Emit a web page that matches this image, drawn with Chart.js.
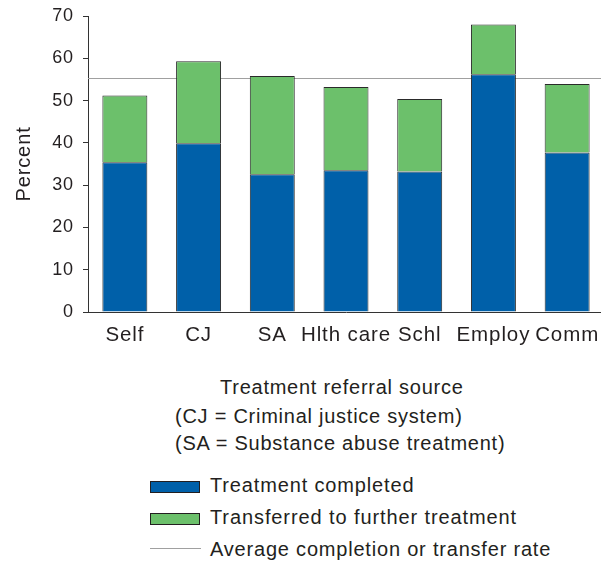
<!DOCTYPE html>
<html>
<head>
<meta charset="utf-8">
<script src="https://cdn.jsdelivr.net/npm/chart.js@4.4.1/dist/chart.umd.min.js"></script>
<style>
    html, body { margin: 0; padding: 0; background: #fff; overflow: hidden; width: 601px; height: 564px; }
    #wrap { position: absolute; left: 0; top: 0; width: 604px; height: 350px; }
    .txt { position: absolute; font-family: "Liberation Sans", Arial, sans-serif; font-size: 20px; line-height: 24px; letter-spacing: 0.75px; color: #231f20; white-space: nowrap; }
    .box { position: absolute; left: 150px; width: 48px; height: 10px; border: 1px solid #231f20; }
    .line { position: absolute; left: 150px; width: 51px; height: 1px; background: #a0a0a0; }
</style>
</head>
<body>
<div id="wrap"><canvas id="chart"></canvas></div>

<div class="txt" style="left:220px; top:375px;">Treatment referral source</div>
<div class="txt" style="left:175px; top:404px;">(CJ = Criminal justice system)</div>
<div class="txt" style="left:175px; top:431px;">(SA = Substance abuse treatment)</div>

<div class="box" style="top:481px; background:#0060a9;"></div>
<div class="txt" style="left:210px; top:473px; letter-spacing:0.85px;">Treatment completed</div>
<div class="box" style="top:513px; background:#6cc06b;"></div>
<div class="txt" style="left:210px; top:505px; letter-spacing:0.9px;">Transferred to further treatment</div>
<div class="line" style="top:548px;"></div>
<div class="txt" style="left:210px; top:537px; letter-spacing:0.8px;">Average completion or transfer rate</div>

<script>
const categories = ['Self', 'CJ', 'SA', 'Hlth care', 'Schl', 'Employ', 'Comm'];
const completed = [35.4, 39.9, 32.6, 33.5, 33.2, 56.2, 37.7];
const totals = [51.2, 59.3, 55.8, 53.2, 50.4, 68.0, 53.9];
const transferred = totals.map((t, i) => +(t - completed[i]).toFixed(1));
const averageRate = 55.4;
const yTicks = [0, 10, 20, 30, 40, 50, 60, 70];

const textColor = '#231f20';
const axisColor = '#333333';

// canvas text gets the same slight tracking as the html labels
const spacingPlugin = {
    id: 'spacing',
    beforeLayout(chart) { chart.ctx.letterSpacing = '0.9px'; },
    beforeDraw(chart) { chart.ctx.letterSpacing = '0.9px'; }
};

// average line, drawn behind the bars
const avgLinePlugin = {
    id: 'avgLine',
    beforeDatasetsDraw(chart) {
        const ctx = chart.ctx;
        const area = chart.chartArea;
        const y = Math.round(chart.scales.y.getPixelForValue(averageRate)) + 0.5;
        ctx.save();
        ctx.strokeStyle = '#a0a0a0';
        ctx.lineWidth = 1;
        ctx.beginPath();
        ctx.moveTo(area.left, y);
        ctx.lineTo(area.right, y);
        ctx.stroke();
        ctx.restore();
    }
};

new Chart(document.getElementById('chart'), {
    type: 'bar',
    data: {
        labels: categories,
        datasets: [
            { label: 'Treatment completed', data: completed, backgroundColor: '#0060a9', borderColor: '#2a2a2a', borderWidth: 1 },
            { label: 'Transferred to further treatment', data: transferred, backgroundColor: '#6cc06b', borderColor: '#2a2a2a', borderWidth: 1 }
        ]
    },
    options: {
        responsive: true,
        maintainAspectRatio: false,
        animation: false,
        layout: { padding: { top: 16, left: 0, right: 0, bottom: 0 } },
        datasets: { bar: { barPercentage: 0.61, categoryPercentage: 1 } },
        plugins: { legend: { display: false }, tooltip: { enabled: false } },
        scales: {
            x: {
                stacked: true,
                grid: { display: false, drawTicks: false },
                border: { color: axisColor, width: 1 },
                ticks: { color: textColor, padding: 11, maxRotation: 0, autoSkip: false, font: { family: 'Liberation Sans', size: 20.5 } },
                afterFit(scale) { scale.height = 38; scale.paddingLeft = 0; scale.paddingRight = 0; }
            },
            y: {
                stacked: true,
                min: 0, max: 70,
                afterBuildTicks(scale) { scale.ticks = yTicks.map(v => ({ value: v })); },
                grid: { drawOnChartArea: false, drawTicks: true, tickLength: 5, color: axisColor },
                border: { color: axisColor, width: 1 },
                ticks: { color: textColor, padding: 9, font: { family: 'Liberation Sans', size: 18 } },
                title: { display: true, text: 'Percent', color: textColor, padding: { top: 12, bottom: 0 }, font: { family: 'Liberation Sans', size: 20 } },
                afterFit(scale) { scale.width = 88; scale.paddingTop = 0; scale.paddingBottom = 0; }
            }
        }
    },
    plugins: [spacingPlugin, avgLinePlugin]
});
</script>
</body>
</html>
